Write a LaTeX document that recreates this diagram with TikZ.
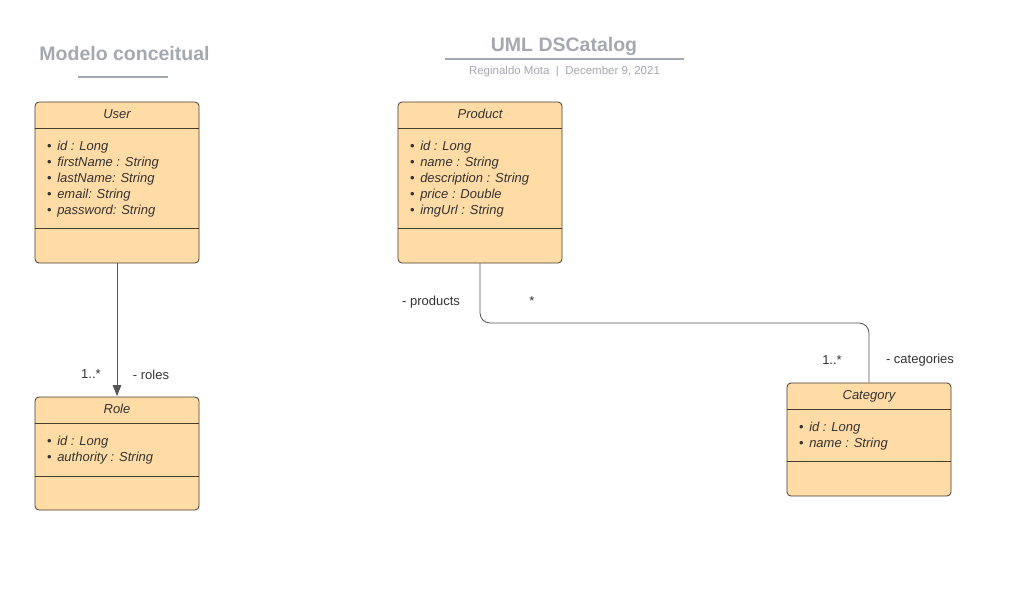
\documentclass[tikz,border=0pt]{standalone}
\usepackage{fontspec}
\setmainfont{Liberation Sans}
\usetikzlibrary{arrows.meta}
\definecolor{boxfill}{RGB}{255,219,166}
\definecolor{boxline}{RGB}{70,60,50}
\definecolor{txt}{RGB}{51,51,51}
\definecolor{ttl}{RGB}{163,168,177}
\definecolor{conn}{RGB}{85,85,85}
\newcommand{\bul}{{\upshape•}\hspace{5.5pt}}
\tikzset{
  classbox/.style={draw=boxline, fill=boxfill, rounded corners=4pt, line width=0.8pt, minimum width=164pt, inner sep=0pt},
  divider/.style={draw=boxline, line width=0.8pt},
  hdr/.style={font=\fontsize{13}{16}\selectfont\itshape, text=txt, inner sep=0pt},
  attrs/.style={font=\fontsize{13}{16}\selectfont\itshape, text=txt, inner sep=0pt, align=left, anchor=north west},
  lbl/.style={font=\fontsize{13}{16}\selectfont, text=txt, inner sep=0pt},
  ttlstyle/.style={font=\fontsize{19.5}{22}\selectfont\bfseries, text=ttl, inner sep=0pt},
  ttlline/.style={draw=ttl, line width=1.3pt},
  connector/.style={draw=conn, line width=0.8pt},
}
\begin{document}
\begin{tikzpicture}[x=1pt,y=-1pt]
\useasboundingbox (0,0) rectangle (1010,600);
% titles
\node[ttlstyle] (t1) at (124.5,53.5) {Modelo conceitual};
\coordinate (t1a) at (78,77); \coordinate (t1b) at (168,77);
\draw[ttlline] (t1a) -- (t1b);
\node[ttlstyle] (t2) at (564,46.5) {UML DSCatalog};
\coordinate (t2a) at (445,59); \coordinate (t2b) at (684,59);
\draw[ttlline] (t2a) -- (t2b);
\node[font=\fontsize{11.5}{13}\selectfont, text=ttl, inner sep=0pt] (sub) at (564.5,72) {Reginaldo Mota~~|~~December 9, 2021};

% User
\node[classbox, minimum height=161pt] (user) at (117,182.5) {};
\draw[divider] ([yshift=-27pt]user.north west) -- ([yshift=-27pt]user.north east);
\draw[divider] ([yshift=35pt]user.south west) -- ([yshift=35pt]user.south east);
\node[hdr] (userh) at (117,114) {User};
\node[attrs] (usera) at (47,140.5) {\bul id : Long\\\bul firstName : String\\\bul lastName: String\\\bul email: String\\\bul password: String};

% Product
\node[classbox, minimum height=161pt] (prod) at (480,182.5) {};
\draw[divider] ([yshift=-27pt]prod.north west) -- ([yshift=-27pt]prod.north east);
\draw[divider] ([yshift=35pt]prod.south west) -- ([yshift=35pt]prod.south east);
\node[hdr] (prodh) at (480,114) {Product};
\node[attrs] (proda) at (410,140.5) {\bul id : Long\\\bul name : String\\\bul description : String\\\bul price : Double\\\bul imgUrl : String};

% Role
\node[classbox, minimum height=113pt] (role) at (117,453.5) {};
\draw[divider] ([yshift=-27pt]role.north west) -- ([yshift=-27pt]role.north east);
\draw[divider] ([yshift=34pt]role.south west) -- ([yshift=34pt]role.south east);
\node[hdr] (roleh) at (117,409) {Role};
\node[attrs] (rolea) at (47,435.5) {\bul id : Long\\\bul authority : String};

% Category
\node[classbox, minimum height=113pt] (cat) at (869,439.5) {};
\draw[divider] ([yshift=-27pt]cat.north west) -- ([yshift=-27pt]cat.north east);
\draw[divider] ([yshift=35pt]cat.south west) -- ([yshift=35pt]cat.south east);
\node[hdr] (cath) at (869,396) {Category};
\node[attrs] (cata) at (799,421.5) {\bul id : Long\\\bul name : String};

% connectors
\draw[connector, -{Triangle[length=11pt,width=8.5pt]}, shorten >=0.5pt] (user.south) -- (role.north);
\node[lbl] (m1) at (91,374) {1..*};
\node[lbl] (r1) at (151,375) {- roles};

\coordinate (c1) at (480,323);
\coordinate (c2) at (869,323);
\draw[connector, rounded corners=10pt] (prod.south) -- (c1) -- (c2) -- (cat.north);
\node[lbl] (p1) at (431,302) {- products};
\node[lbl] (p2) at (532,301) {*};
\node[lbl] (p3) at (832,360) {1..*};
\node[lbl] (p4) at (920,360) {- categories};
\end{tikzpicture}
\end{document}
